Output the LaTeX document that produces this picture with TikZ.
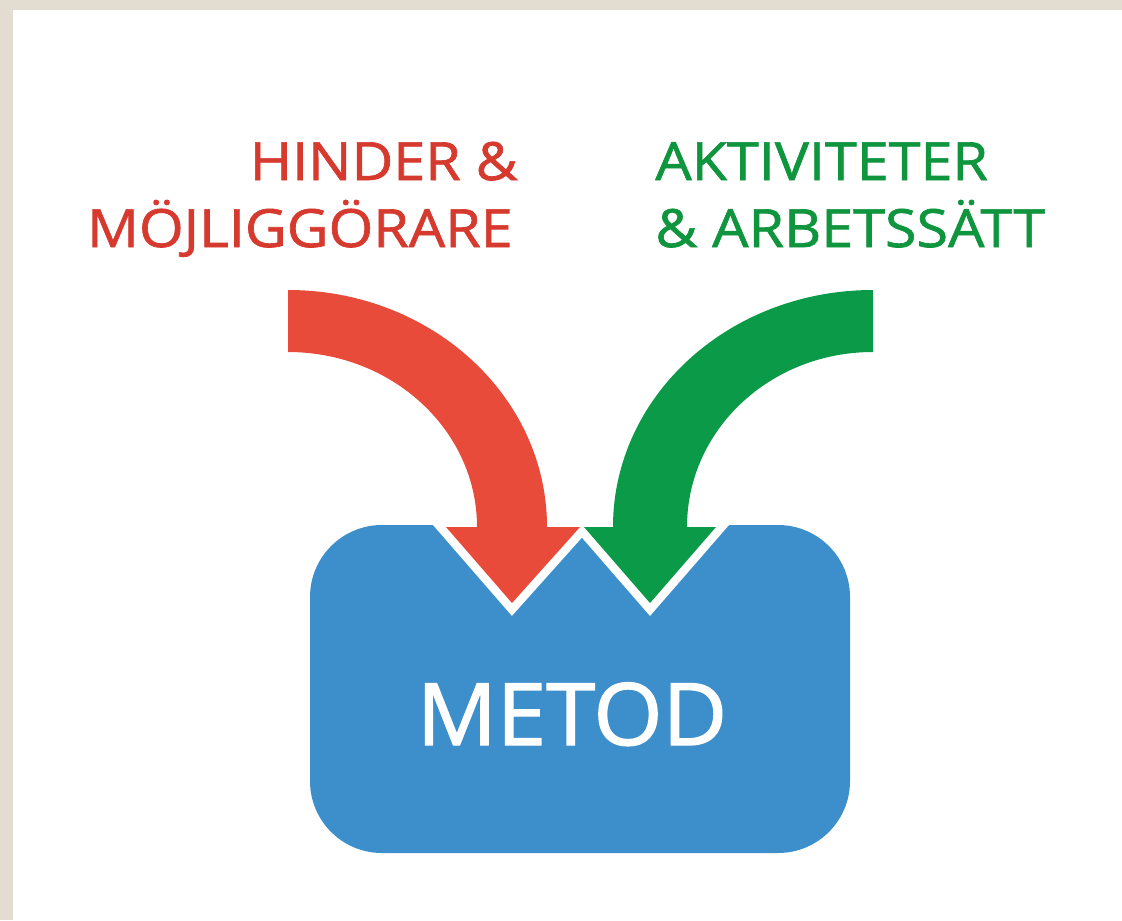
\documentclass[tikz,border=0pt]{standalone}
\usepackage{fontspec}
\setmainfont{Open Sans}
\newfontfamily\labelfont[FakeBold=1.3, FakeStretch=1.09]{Open Sans}
\newfontfamily\metodfont[FakeBold=1.6, FakeStretch=1.03]{Open Sans}
\definecolor{beige}{HTML}{E3DDD1}
\definecolor{boxblue}{HTML}{3D8FCC}
\definecolor{arrred}{HTML}{E84B3A}
\definecolor{txtred}{HTML}{D63A2F}
\definecolor{arrgreen}{HTML}{0A9A48}
\definecolor{txtgreen}{HTML}{10953F}
\tikzset{
  redlabel/.style={text=txtred, font=\labelfont\fontsize{30}{30}\selectfont, inner sep=0pt},
  greenlabel/.style={text=txtgreen, font=\labelfont\fontsize{30}{30}\selectfont, inner sep=0pt},
  halo/.style={draw=white, line width=0.34cm, line join=miter, miter limit=10},
}
\begin{document}
\begin{tikzpicture}[x=0.02cm, y=-0.02cm]
\useasboundingbox (0,0) rectangle (1122,920);
\fill[beige] (0,0) rectangle (1122,920);
\fill[white] (13,10) rectangle (1122,920);
% blue box
\fill[boxblue, rounded corners=1.44cm] (310,525) rectangle (850,853);
% arrows paths
\def\redarrow{(288,290) .. controls (431,290) and (547,396) .. (547,527) -- (580,527) -- (512,603) -- (446,527) -- (477,527) .. controls (477,430) and (392,352) .. (288,352) -- cycle}
\def\greenarrow{(873,290) .. controls (729,290) and (613,396) .. (613,527) -- (584,527) -- (650,603) -- (716,527) -- (687,527) .. controls (687,430) and (770,352) .. (873,352) -- cycle}
\draw[halo] \redarrow;
\draw[halo] \greenarrow;
\fill[arrred] \redarrow;
\fill[arrgreen] \greenarrow;
% labels
\node[redlabel, anchor=base east] (h1) at (518,180) {HINDER \&};
\node[redlabel, anchor=base east] (h2) at (513,247) {MÖJLIGGÖRARE};
\node[greenlabel, anchor=base west] (a1) at (655,180) {AKTIVITETER};
\node[greenlabel, anchor=base west] (a2) at (655,247) {\& ARBETSSÄTT};
\node[text=white, font=\metodfont\fontsize{49}{49}\selectfont, inner sep=0pt, anchor=base] (m) at (572,745) {METOD};
\end{tikzpicture}
\end{document}
